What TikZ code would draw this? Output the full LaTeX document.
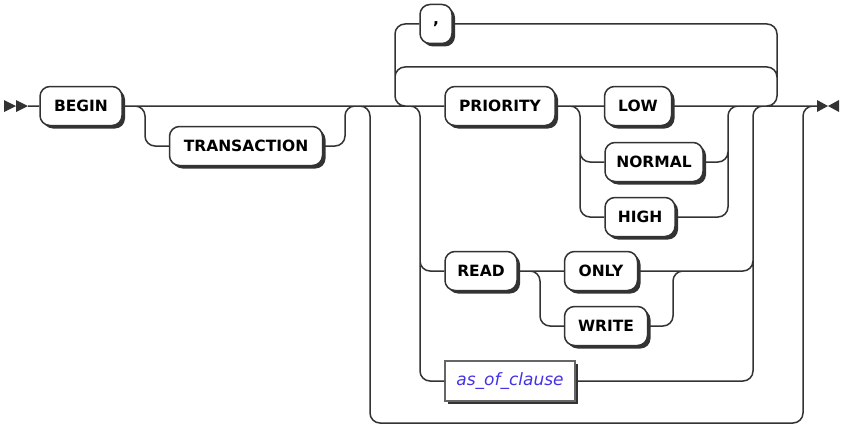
\documentclass[tikz,border=0pt]{standalone}
\usepackage{fontspec}
\setmainfont{DejaVu Sans}
\usepackage{xcolor}
\usepackage{tikz}
\usetikzlibrary{shadows}
\definecolor{rrline}{HTML}{333333}
\definecolor{rrref}{HTML}{4433E6}

\begin{document}
\begin{tikzpicture}[x=1pt, y=-1pt, line width=1.5pt,
    kw/.style={draw=rrline, fill=white, rounded corners=10pt, minimum height=39pt, inner xsep=4pt,
      font=\fontsize{15.5}{18}\selectfont\bfseries,
      drop shadow={shadow xshift=3pt, shadow yshift=-3pt, fill=rrline, opacity=1}},
    ref/.style={draw=black!60, fill=white, minimum height=40pt, inner xsep=4pt, text=rrref,
      font=\fontsize{17}{20}\selectfont\itshape,
      drop shadow={shadow xshift=3pt, shadow yshift=-3pt, fill=rrline, opacity=1}},
    rail/.style={draw=rrline, rounded corners=10pt}]
      \useasboundingbox (0,0) rectangle (843,428);

      \coordinate(Start) at (28, 106);
      \coordinate(Stop) at (817, 106);
      \node[kw, minimum width=82](Begin) at (81, 106) {BEGIN};
      \node[kw, minimum width=153](Transaction) at (246, 146) {TRANSACTION};
        \coordinate(TrDown) at (145, 146);
        \coordinate(TrUp) at (345, 106);

      \coordinate(OuterL) at (360, 106);
      \coordinate(OuterBL) at (370, 423);
      \coordinate(OuterR) at (803, 106);

      \coordinate(LoopL) at (395, 106);
      \coordinate(LoopR) at (777, 106);
      \coordinate(MidR) at (777, 67);
      \node[kw, minimum width=32](Comma) at (436, 24) {,};

      \coordinate(ChSplit) at (410, 106);
      \coordinate(ChL) at (420, 106);
      \coordinate(ChR) at (753, 106);
        \node[kw, minimum width=110](Priority) at (500, 106) {PRIORITY};
          \coordinate(PrSplit) at (570, 106);
          \coordinate(PrL) at (580, 106);
          \coordinate(PrR) at (728, 106);
          \node[kw, minimum width=67](Low) at (638, 106) {LOW};
          \node[kw, minimum width=98](Normal) at (654, 162) {NORMAL};
          \node[kw, minimum width=70](High) at (640, 217) {HIGH};
        \node[kw, minimum width=72](Read) at (481, 271) {READ};
          \coordinate(RdSplit) at (530, 271);
          \coordinate(RdL) at (540, 271);
          \coordinate(RdR) at (673, 271);
          \node[kw, minimum width=73](Only) at (601, 271) {ONLY};
          \node[kw, minimum width=83](Write) at (606, 326) {WRITE};
        \node[ref, minimum width=130](AsOf) at (510, 381) {as\_of\_clause};

      \fill[rrline] (4, 100) -- (16, 106) -- (4, 112) -- cycle (16, 100) -- (28, 106) -- (16, 112) -- cycle
                    (817, 100) -- (828, 106) -- (817, 112) -- cycle (839, 100) -- (828, 106) -- (839, 112) -- cycle;

      \draw[rail] (Start) -- (Begin) (Begin) -- (Priority) -- (Low) -- (Stop)
            (Begin.east) -| (TrDown) -- (Transaction.west)
            (Transaction.east) -| (TrUp) -- ++(10, 0)
            (OuterL) -| (OuterBL) -| (OuterR) -- ++(10, 0)
            (Comma.west) -| (LoopL) -- ++(10, 0)
            ([xshift=-10pt]LoopR) -| (LoopR |- Comma.east) -- (Comma.east)
            ([yshift=10pt]LoopL) |- (MidR) -- ([yshift=10pt]LoopR)
            (ChSplit) -| (ChL |- AsOf.west) -- (AsOf.west)
            (ChL |- Read.west) ++(0, -10) |- (Read.west)
            (AsOf.east) -| (ChR) -- ++(10, 0)
            (ChR |- Only.east) ++(0, -10) |- (Only.east)
            (PrSplit) -| (PrL |- High.west) -- (High.west)
            (PrL |- Normal.west) ++(0, -10) |- (Normal.west)
            (High.east) -| (PrR) -- ++(10, 0)
            (PrR |- Normal.east) ++(0, -10) |- (Normal.east)
            (Read) -- (Only)
            (RdSplit) -| (RdL |- Write.west) -- (Write.west)
            (Write.east) -| (RdR) -- ++(10, 0);
\end{tikzpicture}
\end{document}
